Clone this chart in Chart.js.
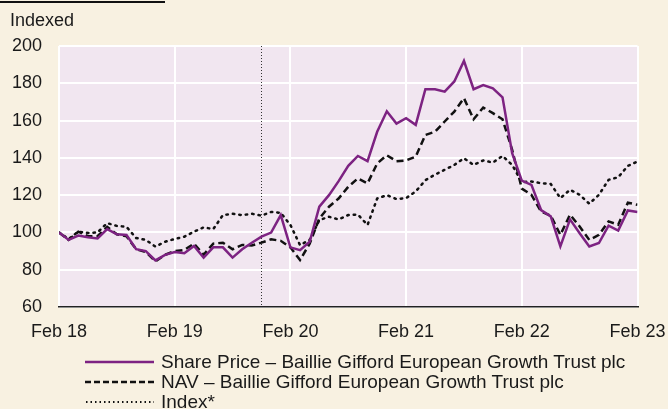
<!DOCTYPE html>
<html>
<head>
<meta charset="utf-8">
<script src="https://cdn.jsdelivr.net/npm/chart.js@4"></script>
<style>
  body { margin: 0; background: #f8f1e1; font-family: "Liberation Sans", Arial, sans-serif; color: #1a1a1a; }
  #wrap { position: relative; width: 668px; height: 409px; overflow: hidden; }
  #chart { position: absolute; left: 0; top: 0; }
  .topbar { position: absolute; left: 0; top: 1px; width: 165px; height: 2px; background: #111; }
  .unit { position: absolute; left: 10px; top: 10px; font-size: 18px; }
  .legend { position: absolute; left: 85px; top: 352px; font-size: 19px; line-height: 20px; }
  .legend div { display: flex; align-items: center; white-space: nowrap; height: 20px; }
  .legend svg { margin-right: 7px; }
</style>
</head>
<body>
<div id="wrap">
  <canvas id="chart" width="668" height="409"></canvas>
  <div class="topbar"></div>
  <div class="unit">Indexed</div>
  <div class="legend">
    <div><svg width="69" height="4"><line x1="0" y1="2" x2="69" y2="2" stroke="#7d2382" stroke-width="2.5"/></svg>Share Price – Baillie Gifford European Growth Trust plc</div>
    <div><svg width="69" height="4"><line x1="0" y1="2" x2="69" y2="2" stroke="#111" stroke-width="2.5" stroke-dasharray="6,3"/></svg>NAV – Baillie Gifford European Growth Trust plc</div>
    <div><svg width="69" height="4"><line x1="1" y1="2" x2="69" y2="2" stroke="#111" stroke-width="2" stroke-dasharray="1.5,3"/></svg>Index*</div>
  </div>
</div>
<script>
// monthly points, Feb 18 .. Feb 23
const xLabels = ['Feb 18', 'Feb 19', 'Feb 20', 'Feb 21', 'Feb 22', 'Feb 23'];
const markerMonth = 21; // vertical dotted line

const sharePrice = [
  100, 96, 98.3, 97.4, 96.8, 101.8, 99, 98.6, 91, 90, 85, 88,
  89.5, 88.8, 92.7, 86.5, 92, 92, 86.5, 91, 94.5, 97.7, 99.9, 109.3,
  92, 90.5, 95, 113.8, 120, 127.5, 135.7, 141, 138.2, 154, 165, 158.4,
  161.3, 157.7, 176.8, 176.8, 175.5, 181, 192, 176.8, 179, 177.3, 172.5, 142.5,
  127.8, 125.5, 112, 108.6, 92.5, 107, 99.6, 92.5, 94.3, 103.6, 101, 111.8, 111
];
const nav = [
  100, 96, 100.4, 98, 98, 103, 99, 98, 91, 89.5, 84.5, 88,
  90, 90.6, 94, 88, 94, 94.5, 91, 93.3, 93, 94.5, 96.3, 95.5,
  92, 85.2, 94, 107.5, 113.8, 118.2, 124.5, 129, 126.3, 137, 141.4, 138.2,
  138.6, 140.7, 152.3, 154, 159.5, 164.8, 172, 160.7, 167, 164, 160.7, 144.3,
  123.5, 120.2, 111.2, 109, 98.7, 109.5, 103.2, 96, 98.7, 105.9, 104.1, 116, 114.8
];
const indexSeries = [
  100, 96.5, 100.4, 99.7, 100, 105, 103.5, 103, 97, 96, 92.4, 95,
  96.5, 97.7, 100.4, 102.7, 101.8, 109.3, 110, 109.3, 110, 109, 111, 110.5,
  104, 93.2, 96, 106.6, 108.4, 107, 109.3, 109.6, 104, 118.2, 120, 117.9,
  118.4, 122, 128, 131, 133.6, 136.2, 139.8, 136.2, 138.6, 137.5, 141, 136.2,
  127, 127.3, 126.4, 126, 118.4, 122.9, 120.2, 115.4, 120.2, 128.2, 129.6, 135.7, 138
];

const toPoints = arr => arr.map((v, i) => ({ x: i, y: v }));
const tickFont = { family: '"Liberation Sans", Arial, sans-serif', size: 18 };

const plotBg = {
  id: 'plotBg',
  beforeDraw(chart) {
    const { ctx, chartArea: a } = chart;
    ctx.save();
    ctx.fillStyle = '#f1e6f0';
    ctx.fillRect(a.left, a.top, a.right - a.left, a.bottom - a.top);
    ctx.restore();
  }
};

const marker = {
  id: 'marker',
  beforeDatasetsDraw(chart) {
    const { ctx, chartArea: a, scales } = chart;
    const x = Math.round(scales.x.getPixelForValue(markerMonth)) + 0.5;
    ctx.save();
    ctx.strokeStyle = '#333';
    ctx.lineWidth = 1;
    ctx.setLineDash([1, 2]);
    ctx.beginPath();
    ctx.moveTo(x, a.top);
    ctx.lineTo(x, a.bottom);
    ctx.stroke();
    ctx.restore();
  }
};

new Chart(document.getElementById('chart'), {
  type: 'line',
  data: {
    datasets: [
      { label: 'Share Price', data: toPoints(sharePrice), borderColor: '#7d2382', borderWidth: 2.5 },
      { label: 'NAV', data: toPoints(nav), borderColor: '#111', borderWidth: 2.5, borderDash: [7, 4] },
      { label: 'Index*', data: toPoints(indexSeries), borderColor: '#111', borderWidth: 2.5, borderDash: [1.5, 5], borderCapStyle: 'round' }
    ]
  },
  options: {
    responsive: false,
    animation: false,
    elements: { point: { radius: 0 }, line: { tension: 0 } },
    layout: { padding: { top: 46, right: 30.5, bottom: 0, left: 0 } },
    plugins: { legend: { display: false }, tooltip: { enabled: false } },
    scales: {
      x: {
        type: 'linear',
        min: 0,
        max: 60,
        afterBuildTicks: s => { s.ticks = xLabels.map((_, i) => ({ value: i * 12 })); },
        afterFit: s => { s.height = 102; s.paddingLeft = 0; s.paddingRight = 0; },
        ticks: { callback: v => xLabels[v / 12], font: tickFont, color: '#1a1a1a', padding: 14, maxRotation: 0 },
        grid: { color: '#ffffff', lineWidth: 2, drawTicks: false },
        border: { color: '#222', width: 1.5 }
      },
      y: {
        min: 60,
        max: 200,
        afterFit: s => { s.width = 59; },
        ticks: { stepSize: 20, font: tickFont, color: '#1a1a1a', padding: 17 },
        grid: { color: '#ffffff', lineWidth: 2, drawTicks: false },
        border: { display: false }
      }
    }
  },
  plugins: [plotBg, marker]
});
</script>
</body>
</html>
